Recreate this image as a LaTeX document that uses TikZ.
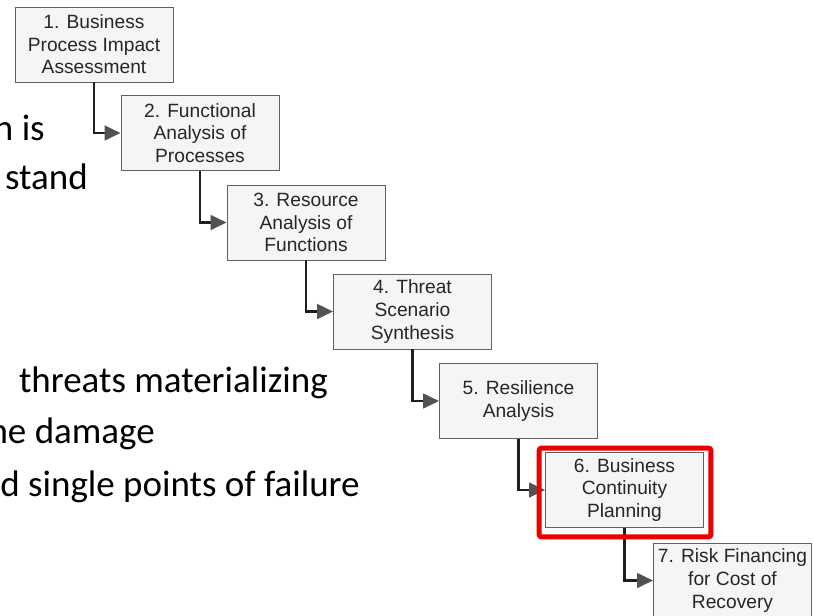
\documentclass[tikz,border=0pt]{standalone}
\usepackage{fontspec}
\setmainfont{Liberation Sans}
\newfontfamily\slidefont{Carlito}
\usetikzlibrary{arrows.meta,calc}
\begin{document}
\begin{tikzpicture}[x=0.75pt,y=-0.75pt,
  stepbox/.style={draw=black!62, line width=0.7pt, fill=black!4,
    minimum width=118.5pt, minimum height=56.25pt, inner sep=0pt,
    align=center, text=black!85, font=\fontsize{14.4pt}{16.9pt}\selectfont},
  flow/.style={draw=black!88, line width=2pt,
    -{Triangle[length=12pt,width=11pt,color=black!68]}},
  slide/.style={anchor=base east, inner sep=0pt, text=black,
    font=\slidefont\fontsize{27.75pt}{33pt}\selectfont},
  redframe/.style={draw=red!92!black, line width=3.75pt, rounded corners=2pt}]
\useasboundingbox (0,0) rectangle (815,615);
\fill[white] (0,0) rectangle (815,615);

% slide bullet text on the left
\node[slide] (t1) at (45,140) {n is};
\node[slide] (t2) at (88,189) {stand};
\node[slide] (t3) at (328,392) {threats materializing};
\node[slide] (t4) at (155,443) {he damage};
\node[slide] (t5) at (360,496) {d single points of failure};

% the seven steps
\node[stepbox] (b1) at (94,44.5)   {1. Business\\Process Impact\\Assessment};
\node[stepbox] (b2) at (200,133)   {2. Functional\\Analysis of\\Processes};
\node[stepbox] (b3) at (306,222.5) {3. Resource\\Analysis of\\Functions};
\node[stepbox] (b4) at (412.5,311.5) {4. Threat\\Scenario\\Synthesis};
\node[stepbox] (b5) at (518.5,401) {5. Resilience\\Analysis};
\node[stepbox] (b6) at (624.5,490) {6. Business\\Continuity\\Planning};
\node[stepbox] (b7) at (732.5,580.5) {7. Risk Financing\\for Cost of\\Recovery};

% elbow connectors
\draw[flow] (b1.south) |- (b2.west);
\draw[flow] (b2.south) |- (b3.west);
\draw[flow] (b3.south) |- (b4.west);
\draw[flow] (b4.south) |- (b5.west);
\draw[flow] (b5.south) |- (b6.west);
\draw[flow] (b6.south) |- (b7.west);

% highlight around step 6
\draw[redframe] ($(b6.north west)+(-6,-4)$) rectangle ($(b6.south east)+(7,9)$);
\end{tikzpicture}
\end{document}
